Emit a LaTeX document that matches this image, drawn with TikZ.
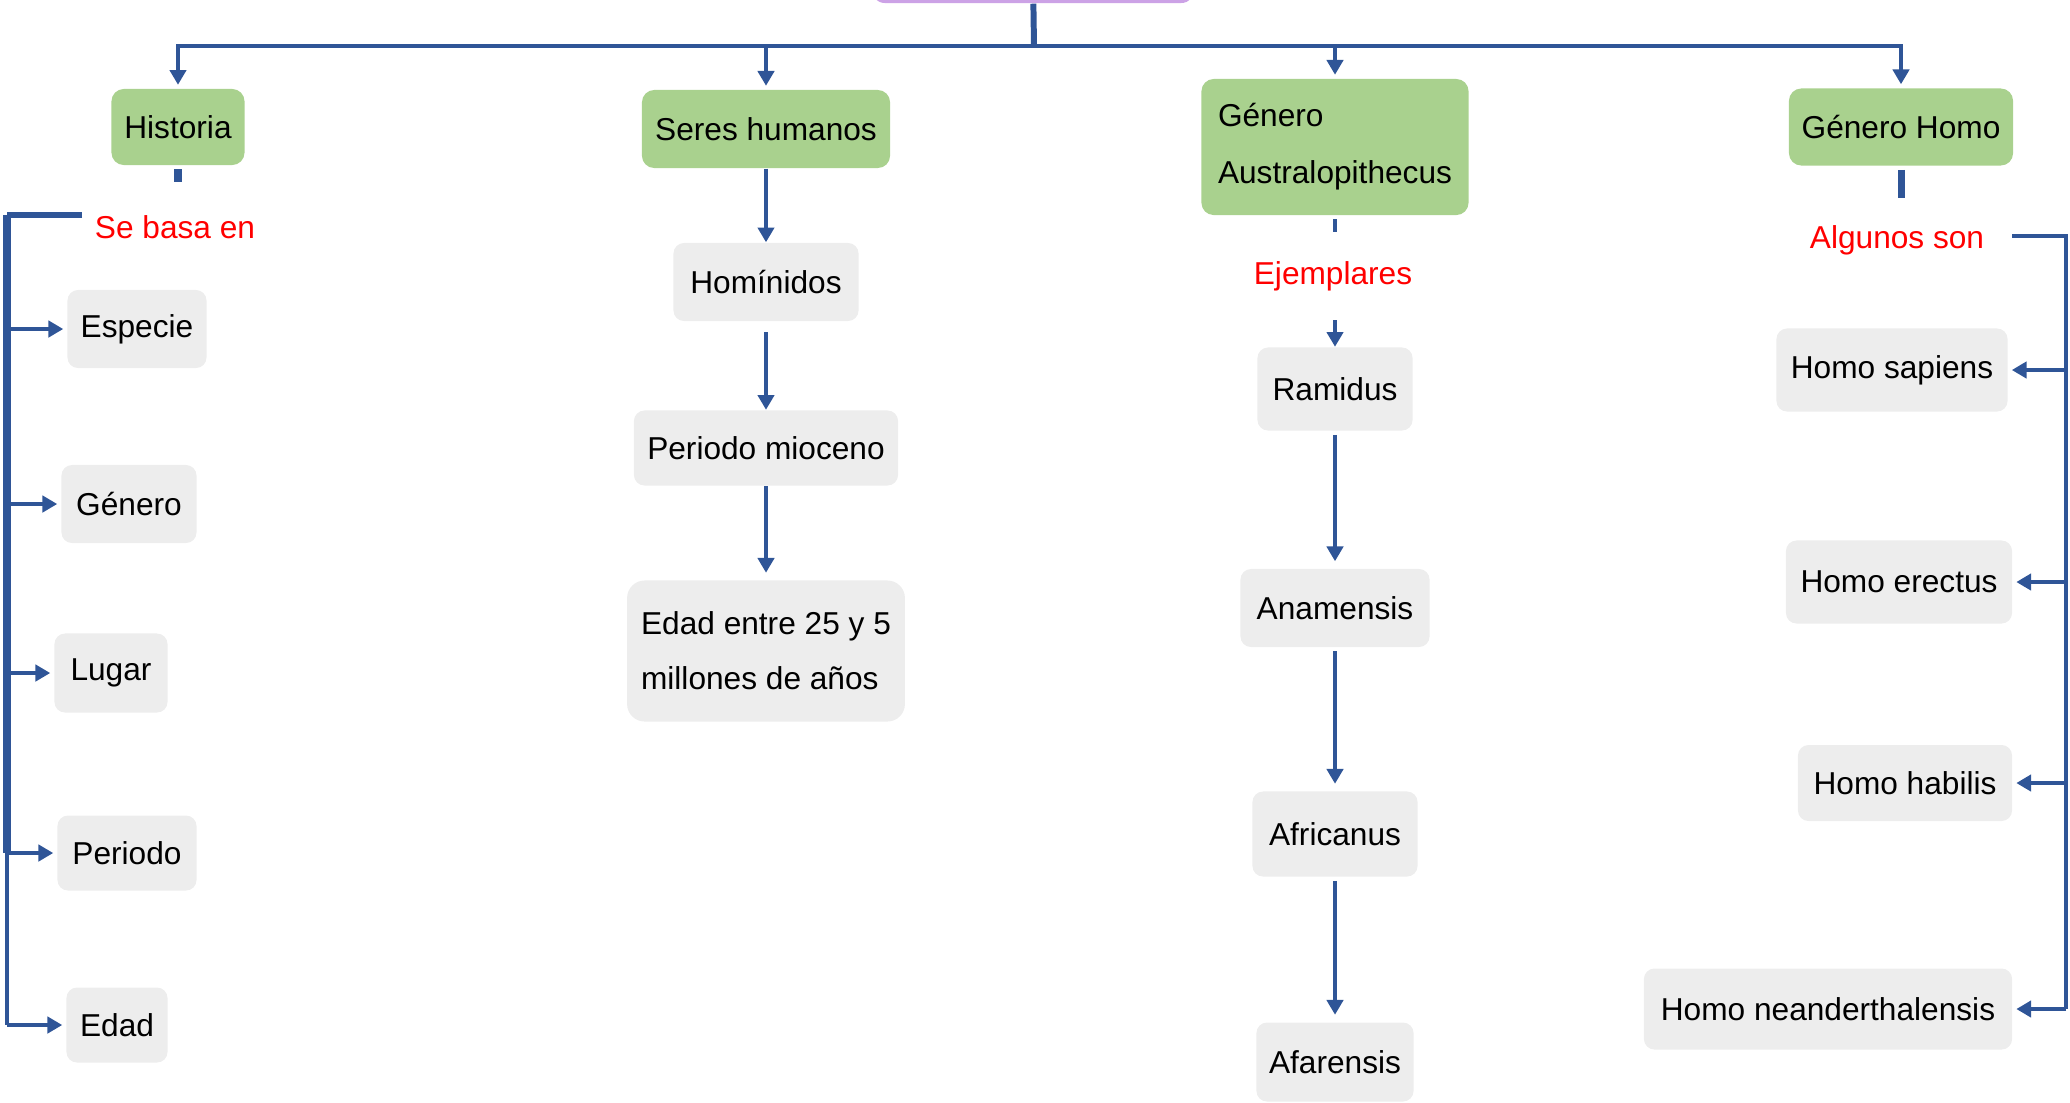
\documentclass[tikz,border=0pt]{standalone}
\usepackage{fontspec}
\setmainfont{Liberation Sans}
\usepackage{xcolor}
\usepackage{tikz}
\usetikzlibrary{arrows.meta}
\definecolor{linkblue}{RGB}{47,85,151}
\definecolor{leafgreen}{RGB}{169,209,142}
\definecolor{softgray}{RGB}{237,237,237}
\definecolor{lilac}{RGB}{204,162,230}

\begin{document}
\begin{tikzpicture}[x=0.01cm, y=-0.01cm, >={Triangle[width=4.6pt,length=4.2pt]}]
    \tikzstyle{topic} = [rectangle, rounded corners=4pt, fill=lilac, minimum width=3.24cm, minimum height=0.5cm]
    \tikzstyle{branch} = [rectangle, rounded corners=3.5pt, fill=leafgreen, inner sep=2pt, font=\fontsize{9}{11}\selectfont]
    \tikzstyle{leaf} = [rectangle, rounded corners=3pt, fill=softgray, inner sep=2pt, font=\fontsize{9}{11}\selectfont]
    \tikzstyle{tag} = [text=red, font=\fontsize{9}{11}\selectfont]
    \tikzstyle{link} = [draw=linkblue, line width=1.1pt]
    \tikzstyle{stub} = [draw=linkblue, line width=2pt]
    \useasboundingbox (0,0) rectangle (2070,1102);

    % Main topic (cut off at the top)
    \node [topic] (tema) at (1033,-22) {};
    \coordinate (hub) at (1034,46);

    % Four branches
    \node [branch, minimum width=1.33cm, minimum height=0.76cm] (historia) at (178,127) {Historia};
    \node [branch, minimum width=2.48cm, minimum height=0.78cm] (seres) at (766,129) {Seres humanos};
    \node [branch, minimum width=2.67cm, minimum height=1.36cm, align=left, inner xsep=0.15cm,
           font=\fontsize{9}{16.2}\selectfont] (australo) at (1335,147) {Género\\Australopithecus};
    \node [branch, minimum width=2.24cm, minimum height=0.77cm] (homo) at (1901,127) {Género Homo};

    % Historia
    \node [tag] (sebasa) at (175,227) {Se basa en};
    \node [leaf, minimum width=1.39cm, minimum height=0.78cm] (especie) at (137,329) {Especie};
    \node [leaf, minimum width=1.35cm, minimum height=0.78cm] (genero) at (129,504) {Género};
    \node [leaf, minimum width=1.13cm, minimum height=0.79cm] (lugar) at (111,673) {Lugar};
    \node [leaf, minimum width=1.39cm, minimum height=0.75cm] (periodo) at (127,853) {Periodo};
    \node [leaf, minimum width=1.01cm, minimum height=0.75cm] (edad) at (117,1025) {Edad};

    % Seres humanos
    \node [leaf, minimum width=1.85cm, minimum height=0.78cm] (hominidos) at (766,282) {Homínidos};
    \node [leaf, minimum width=2.64cm, minimum height=0.75cm] (mioceno) at (766,448) {Periodo mioceno};
    \node [leaf, minimum width=2.74cm, minimum height=1.41cm, align=left, inner xsep=0.14cm,
           rounded corners=5pt, font=\fontsize{9}{15.6}\selectfont] (edad_anos) at (766,651) {Edad entre 25 y 5\\millones de años};

    % Australopithecus
    \node [tag] (ejemplares) at (1333,276) {Ejemplares};
    \node [leaf, minimum width=1.55cm, minimum height=0.83cm] (ramidus) at (1335,389) {Ramidus};
    \node [leaf, minimum width=1.89cm, minimum height=0.78cm] (anamensis) at (1335,608) {Anamensis};
    \node [leaf, minimum width=1.65cm, minimum height=0.85cm] (africanus) at (1335,834) {Africanus};
    \node [leaf, minimum width=1.57cm, minimum height=0.79cm] (afarensis) at (1335,1062) {Afarensis};

    % Genero Homo
    \node [tag] (algunos) at (1897,240) {Algunos son};
    \node [leaf, minimum width=2.31cm, minimum height=0.83cm] (sapiens) at (1892,370) {Homo sapiens};
    \node [leaf, minimum width=2.26cm, minimum height=0.83cm] (erectus) at (1899,582) {Homo erectus};
    \node [leaf, minimum width=2.14cm, minimum height=0.76cm] (habilis) at (1905,783) {Homo habilis};
    \node [leaf, minimum width=3.68cm, minimum height=0.81cm] (neander) at (1828,1009) {Homo neanderthalensis};

    % Top connectors
    \draw [draw=linkblue, line width=1.7pt] (tema) -- (hub);
    \foreach \b in {historia, seres, australo, homo}
        \draw [link, ->, shorten >=1pt] (hub) -| (\b);

    % Historia bracket
    \coordinate (hist_end) at (178,182);
    \coordinate (lb_top) at (82,215);
    \coordinate (lb) at (7,215);
    \draw [stub, shorten <=1pt] (historia) -- (hist_end);
    \draw [draw=linkblue, line width=1.5pt] (lb_top) -- (lb);
    \draw [stub] (lb) -- (lb |- periodo);
    \draw [link] (lb |- periodo) -- (lb |- edad);
    \foreach \n in {especie, genero, lugar, periodo, edad}
        \draw [link, ->, shorten >=1pt] (lb |- \n) -- (\n);

    % Seres humanos chain
    \draw [link, ->] (seres) -- (hominidos);
    \draw [link, ->, shorten <=3pt] (hominidos) -- (mioceno);
    \draw [link, ->, shorten >=2pt] (mioceno) -- (edad_anos);

    % Australopithecus chain
    \coordinate (au_end) at (1335,232);
    \coordinate (ej_in) at (1335,320);
    \draw [draw=linkblue, line width=0.9pt, shorten <=1pt] (australo) -- (au_end);
    \draw [link, ->] (ej_in) -- (ramidus);
    \draw [link, ->, shorten <=1pt, shorten >=2pt] (ramidus) -- (anamensis);
    \draw [link, ->, shorten <=1pt, shorten >=2pt] (anamensis) -- (africanus);
    \draw [link, ->, shorten <=1pt, shorten >=2pt] (africanus) -- (afarensis);

    % Genero Homo bracket
    \coordinate (homo_end) at (1901,198);
    \coordinate (rb_top) at (2012,236);
    \coordinate (rb) at (2066,236);
    \draw [stub, shorten <=1pt] (homo) -- (homo_end);
    \draw [draw=linkblue, line width=1.4pt] (rb_top) -- (rb) -- (rb |- neander);
    \foreach \n in {sapiens, erectus, habilis, neander}
        \draw [link, ->, shorten >=1pt] (rb |- \n) -- (\n);
\end{tikzpicture}
\end{document}
